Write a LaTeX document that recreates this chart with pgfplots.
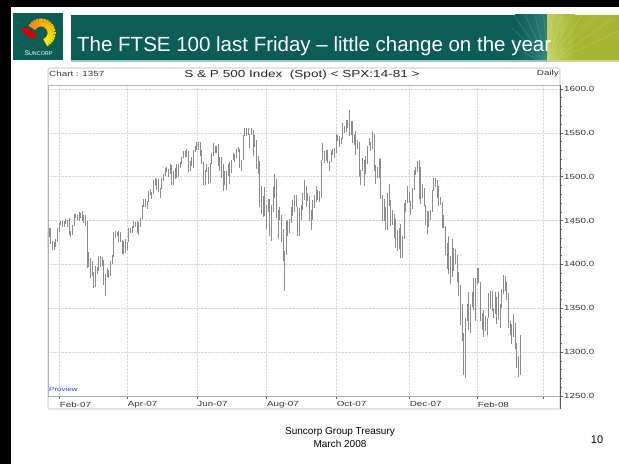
\documentclass[border=0pt]{standalone}
\usepackage{pgfplots}
\pgfplotsset{compat=1.18}
\usepackage{pgfplotstable}
\usetikzlibrary{calc}
\usepackage{fontspec}
\setmainfont{Liberation Sans}
\usepackage{graphicx}
\definecolor{teal1}{HTML}{0B5D55}
\definecolor{teal2}{HTML}{2A7E74}
\definecolor{lime1}{HTML}{A6B634}
\definecolor{lime2}{HTML}{C2CF5E}
\definecolor{barcol}{HTML}{8C8C8C}
\definecolor{gridc}{HTML}{D8D8D8}
\definecolor{txtc}{HTML}{333333}
\newcommand{\ct}[2]{\scalebox{1.33}[1]{\fontsize{#1}{#1}\selectfont #2}}
\pgfplotstableread{
i lo hi
1 1421 1433
2 1431 1441
3 1423 1441
4 1416 1427
5 1416 1426
6 1420 1429
7 1425 1441
8 1437 1447
9 1445 1449
10 1443 1449
11 1443 1450
12 1446 1452
13 1443 1451
14 1433 1453
15 1431 1438
16 1434 1445
17 1444 1457
18 1453 1457
19 1451 1456
20 1449 1460
21 1453 1459
22 1450 1461
23 1447 1456
24 1444 1456
25 1396 1450
26 1397 1414
27 1384 1407
28 1387 1404
29 1373 1391
30 1374 1398
31 1389 1397
32 1392 1410
33 1397 1410
34 1398 1409
35 1377 1405
36 1364 1389
37 1386 1396
38 1384 1394
39 1387 1404
40 1400 1411
41 1409 1437
42 1430 1438
43 1432 1437
44 1425 1438
45 1426 1437
46 1412 1428
47 1412 1427
48 1413 1429
49 1416 1425
50 1425 1441
51 1436 1441
52 1436 1444
53 1442 1449
54 1443 1448
55 1436 1449
56 1433 1448
57 1443 1453
58 1452 1468
59 1466 1474
60 1465 1474
61 1463 1472
62 1471 1484
63 1479 1486
64 1474 1483
65 1480 1496
66 1490 1499
67 1485 1497
68 1482 1497
69 1476 1487
70 1486 1499
71 1495 1503
72 1501 1510
73 1505 1511
74 1500 1509
75 1503 1514
76 1491 1513
77 1491 1506
78 1497 1510
79 1499 1514
80 1500 1514
81 1510 1517
82 1514 1522
83 1521 1529
84 1522 1529
85 1522 1532
86 1505 1529
87 1507 1518
88 1512 1522
89 1510 1530
90 1528 1535
91 1530 1540
92 1530 1540
93 1523 1539
94 1515 1530
95 1490 1517
96 1490 1508
97 1505 1515
98 1492 1511
99 1493 1516
100 1515 1527
101 1523 1538
102 1527 1535
103 1527 1535
104 1512 1537
105 1507 1522
106 1499 1522
107 1484 1514
108 1490 1507
109 1485 1506
110 1501 1514
111 1492 1517
112 1504 1519
113 1519 1527
114 1517 1526
115 1521 1532
116 1528 1534
117 1510 1532
118 1507 1519
119 1519 1547
120 1546 1556
121 1546 1555
122 1547 1555
123 1533 1549
124 1547 1555
125 1524 1553
126 1534 1547
127 1509 1542
128 1503 1524
129 1465 1518
130 1458 1489
131 1454 1478
132 1455 1488
133 1440 1468
134 1460 1474
135 1432 1474
136 1427 1468
137 1460 1488
138 1476 1503
139 1453 1497
140 1429 1462
141 1451 1466
142 1425 1456
143 1404 1440
144 1370 1415
145 1411 1450
146 1432 1451
147 1436 1452
148 1447 1465
149 1455 1473
150 1460 1479
151 1466 1479
152 1432 1466
153 1432 1464
154 1451 1468
155 1462 1481
156 1473 1496
157 1466 1489
158 1472 1481
159 1450 1478
160 1439 1462
161 1451 1473
162 1464 1479
163 1471 1489
164 1473 1485
165 1471 1484
166 1476 1519
167 1519 1538
168 1516 1529
169 1518 1530
170 1516 1530
171 1507 1518
172 1517 1529
173 1525 1532
174 1521 1533
175 1527 1549
176 1541 1548
177 1534 1546
178 1537 1544
179 1543 1561
180 1550 1558
181 1551 1565
182 1555 1565
183 1546 1576
184 1548 1563
185 1538 1564
186 1536 1549
187 1525 1552
188 1531 1542
189 1500 1540
190 1490 1508
191 1506 1521
192 1489 1519
193 1503 1523
194 1514 1535
195 1536 1544
196 1529 1539
197 1531 1552
198 1507 1549
199 1492 1513
200 1499 1511
201 1499 1521
202 1475 1520
203 1450 1479
204 1450 1475
205 1439 1465
206 1439 1481
207 1467 1492
208 1444 1473
209 1445 1462
210 1430 1458
211 1419 1452
212 1415 1439
213 1417 1441
214 1407 1446
215 1407 1432
216 1429 1470
217 1460 1473
218 1470 1489
219 1470 1482
220 1456 1472
221 1463 1487
222 1485 1508
223 1502 1511
224 1505 1518
225 1475 1519
226 1469 1511
227 1476 1492
228 1467 1487
229 1445 1468
230 1435 1461
231 1443 1461
232 1451 1462
233 1460 1485
234 1484 1498
235 1488 1499
236 1476 1496
237 1467 1489
238 1468 1477
239 1442 1471
240 1442 1456
241 1411 1444
242 1395 1424
243 1389 1432
244 1378 1410
245 1386 1429
246 1393 1419
247 1401 1418
248 1380 1411
249 1364 1391
250 1331 1377
251 1313 1355
252 1274 1322
253 1271 1339
254 1336 1355
255 1325 1368
256 1322 1354
257 1351 1368
258 1348 1385
259 1335 1385
260 1378 1396
261 1379 1396
262 1336 1380
263 1325 1345
264 1317 1348
265 1324 1341
266 1320 1339
267 1339 1367
268 1349 1370
269 1347 1370
270 1339 1350
271 1344 1368
272 1332 1363
273 1338 1368
274 1327 1355
275 1350 1372
276 1366 1388
277 1370 1387
278 1359 1380
279 1328 1367
280 1320 1336
281 1309 1332
282 1317 1344
283 1304 1333
284 1282 1310
285 1272 1296
286 1274 1320
}\spx
\begin{document}
\begin{tikzpicture}
\useasboundingbox (0,0) rectangle (619pt,464pt);
\fill[white] (0,0) rectangle (619pt,464pt);
\begin{scope}[x=1pt,y=1pt]
% black frame
\fill[black] (0,457) rectangle (619,464);
\fill[black] (0,0) rectangle (11,464);
% logo
\fill[teal1] (13,404) rectangle (63,451);
\foreach \a [count=\k] in {-60,-48,...,150} {
  \pgfmathsetmacro{\mix}{100-\k*5}
  \draw[line width=2.4pt, yellow!\mix!orange] ($(41,431)+(\a:6.5)$) -- ($(41,431)+(\a:14.5)$);
}
\fill[red!85!black, rotate around={-33:(29,431)}] (29,431) ellipse (8.5 and 3.2);
\node[text=white, inner sep=0] at (38.5,411) {\fontsize{6.8}{7}\selectfont S\fontsize{5.4}{6}\selectfont UNCORP};
% title bar
\fill[teal1] (71,404) rectangle (619,449);
\shade[left color=teal1, right color=teal2] (515,404) rectangle (547,449);
\shade[left color=lime2, right color=lime1] (547,404) rectangle (575,449);
\fill[lime1] (575,404) rectangle (619,449);
\begin{scope}
\clip (512,404) rectangle (619,449);
\foreach \a in {25,35,...,155} {
  \draw[white, opacity=0.15, line width=0.7pt] (548,400) -- ++(\a:80);
}
\end{scope}
\fill[teal2!45!white] (71,402) rectangle (547,404);
\fill[lime1!55!white] (547,402) rectangle (619,404);
\node[anchor=base west, text=white, inner sep=0] at (77,412) {\fontsize{20.5}{24}\selectfont The FTSE 100 last Friday – little change on the year};
% chart frame
\draw[gray!60, line width=0.6pt, rounded corners=1.5pt] (48,55) rectangle (560,396);
\draw[gray!60, line width=0.6pt] (48,379) -- (560,379);
\node[anchor=west, inner sep=0, text=txtc] at (49,390) {\ct{7.4}{Chart : 1357}};
\node[inner sep=0, text=black!85] at (302,389.5) {\ct{10.2}{S \& P 500 Index\ \ (Spot) < SPX:14-81 >}};
\node[anchor=east, inner sep=0, text=txtc] at (559,390) {\ct{7.4}{Daily}};
% footer
\node[inner sep=0] at (340,32) {\fontsize{10}{12}\selectfont Suncorp Group Treasury};
\node[inner sep=0] at (340,20) {\fontsize{10}{12}\selectfont March 2008};
\node[inner sep=0] at (597,24) {\fontsize{11}{12}\selectfont 10};
\end{scope}
\begin{axis}[
  at={(48pt,68pt)}, anchor=south west,
  width=512pt, height=311pt, scale only axis,
  xmin=1.3, xmax=310, ymin=1250, ymax=1604.5,
  axis line style={gray!60, line width=0.6pt},
  xtick={8,49,91,133,175,219,260,300},
  xticklabels={\ct{7.4}{Feb-07},\ct{7.4}{Apr-07},\ct{7.4}{Jun-07},\ct{7.4}{Aug-07},\ct{7.4}{Oct-07},\ct{7.4}{Dec-07},\ct{7.4}{Feb-08},{}},
  ytick={1250,1300,1350,1400,1450,1500,1550,1600},
  yticklabels={\ct{7.4}{1250.0},\ct{7.4}{1300.0},\ct{7.4}{1350.0},\ct{7.4}{1400.0},\ct{7.4}{1450.0},\ct{7.4}{1500.0},\ct{7.4}{1550.0},\ct{7.4}{1600.0}},
  minor y tick num=4,
  ytick pos=right, xtick pos=bottom,
  tick align=outside,
  major tick length=3pt, minor tick length=2pt,
  tick style={gray!70!black, line width=0.5pt},
  xticklabel style={anchor=north west, inner sep=0pt, yshift=-2.5pt, xshift=0.5pt, text=txtc},
  yticklabel style={anchor=west, inner sep=0pt, xshift=1pt, text=txtc},
  grid=major,
  major grid style={densely dotted, gridc, line width=0.5pt},
  clip=true,
]
\addplot[draw=none, no markers, forget plot,
  error bars/.cd, y dir=plus, y explicit, error mark=none,
  error bar style={line width=1pt, draw=barcol, solid}]
  table[x=i, y=lo, y error expr=\thisrow{hi}-\thisrow{lo}] {\spx};
\end{axis}
\begin{scope}[x=1pt,y=1pt]
\draw[gray!70!black, line width=0.6pt] (560,55) -- (560,379);
\node[anchor=west, inner sep=0, text=blue!80] at (49,75) {\ct{6}{Proview}};
\end{scope}
\end{tikzpicture}
\end{document}
